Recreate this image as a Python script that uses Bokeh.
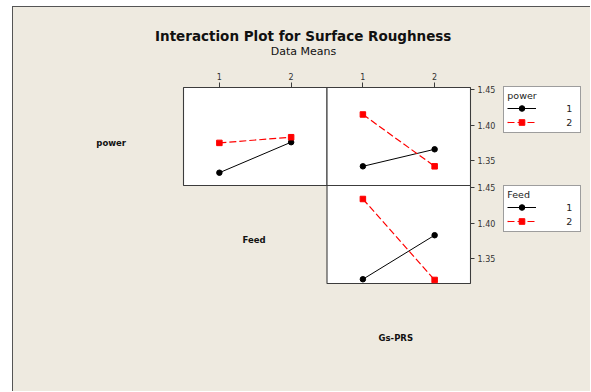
from bokeh.plotting import figure
from bokeh.layouts import column, row
from bokeh.models import (Range1d, LinearAxis, FixedTicker, Label, Legend, LegendItem)
from bokeh.embed import file_html
from bokeh.resources import INLINE

# ---------------- data ----------------
levels = [1, 2]
# top-left panel: x = Feed, traces = power
feed_power1 = [1.333, 1.376]
feed_power2 = [1.375, 1.383]
# top-right panel: x = Gs-PRS, traces = power
gs_power1 = [1.342, 1.366]
gs_power2 = [1.415, 1.342]
# bottom-right panel: x = Gs-PRS, traces = Feed
gs_feed1 = [1.321, 1.383]
gs_feed2 = [1.434, 1.320]

x_tick_labels = ["1", "2"]
y_ticks = [1.35, 1.40, 1.45]
y_tick_labels = ["1.35", "1.40", "1.45"]

title_text = "Interaction Plot for Surface Roughness"
subtitle_text = "Data Means"
row_labels = ["power", "Feed", "Gs-PRS"]
legend_titles = ["power", "Feed"]
legend_labels = ["1", "2"]

# ---------------- styling / geometry ----------------
BG = "#EEEAE0"
FRAME = "#3c3c3c"
FONT = "DejaVu Sans"
ylo, yhi = 1.315, 1.453
xlo, xhi = 0.5, 2.5

# main figure frame (page pixels) and panel edges
OX, OY = 13, 67          # main figure canvas origin on the page
FX0, FX1 = 13, 471
FY0, FY1 = 86, 391
C0, C1, C2 = 183, 326.5, 470
R0, R1, R2 = 87, 185, 283


def xrange_for(lo, hi, a, b):
    s = (hi - lo) / (b - a)
    return Range1d(lo - (a - FX0) * s, hi + (FX1 - b) * s)


def yrange_for(lo, hi, top_px, bottom_px):
    s = (hi - lo) / (bottom_px - top_px)
    return Range1d(lo - (FY1 - bottom_px) * s, hi + (top_px - FY0) * s)


def blank(p):
    p.background_fill_color = BG
    p.border_fill_color = BG
    p.outline_line_color = None
    p.xgrid.visible = False
    p.ygrid.visible = False


def label(p, txt, x, y, size, bold=True):
    p.add_layout(Label(x=x, y=y, x_units="canvas", y_units="canvas", text=txt,
                       text_font=FONT, text_font_size=size,
                       text_font_style="bold" if bold else "normal",
                       text_align="center", text_baseline="middle",
                       text_color="#111111"))


# ---------------- title strip ----------------
pt = figure(width=577, height=60, output_backend="svg", toolbar_location=None,
            x_range=Range1d(0, 1), y_range=Range1d(0, 1), min_border=0,
            x_axis_location=None, y_axis_location=None)
blank(pt)
label(pt, title_text, 302.7 - OX, 35 - 7, "13.5px")
label(pt, subtitle_text, 303 - OX, 50.7 - 7, "11px", bold=False)

# ---------------- main panels ----------------
xr_left = xrange_for(xlo, xhi, C0, C1)
xr_right = xrange_for(xlo, xhi, C1, C2)
yr_top = yrange_for(ylo, yhi, R0, R1)
yr_bottom = yrange_for(ylo, yhi, R1, R2)

p = figure(width=487, height=324, output_backend="svg", toolbar_location=None,
           x_range=xr_left, y_range=yr_top,
           x_axis_location=None, y_axis_location=None,
           min_border_left=FX0 - OX, min_border_right=OX + 487 - FX1,
           min_border_top=FY0 - OY, min_border_bottom=0)
p.extra_x_ranges = {"right_col": xr_right}
p.extra_y_ranges = {"bottom_row": yr_bottom}
blank(p)

panel_specs = [dict(), dict(x_range_name="right_col"),
               dict(x_range_name="right_col", y_range_name="bottom_row")]
for spec in panel_specs:
    p.quad(left=xlo, right=xhi, bottom=ylo, top=yhi, fill_color="white",
           line_color=FRAME, line_width=1.1, **spec)


def right_to_left_x(v):
    px = FX0 + (v - xr_right.start) / (xr_right.end - xr_right.start) * (FX1 - FX0)
    return xr_left.start + (px - FX0) / (FX1 - FX0) * (xr_left.end - xr_left.start)


def bottom_to_top_y(v):
    return yr_top.start + (v - yr_bottom.start) / (yr_bottom.end - yr_bottom.start) * (yr_top.end - yr_top.start)


top_ticks, top_over = [], {}
for k, lab in zip(levels, x_tick_labels):
    top_ticks.append(float(k)); top_over[float(k)] = lab
    t2 = right_to_left_x(k)
    top_ticks.append(t2); top_over[t2] = lab
right_ticks, right_over = [], {}
for t, lab in zip(y_ticks, y_tick_labels):
    right_ticks.append(t); right_over[t] = lab
    t2 = bottom_to_top_y(t)
    right_ticks.append(t2); right_over[t2] = lab

top_axis = LinearAxis(ticker=FixedTicker(ticks=top_ticks), major_label_overrides=top_over)
right_axis = LinearAxis(ticker=FixedTicker(ticks=right_ticks), major_label_overrides=right_over)
for ax in (top_axis, right_axis):
    ax.axis_line_color = None
    ax.major_tick_line_color = FRAME
    ax.major_tick_in = 1
    ax.major_tick_out = 4
    ax.minor_tick_line_color = None
    ax.major_label_text_font = FONT
    ax.major_label_text_font_size = "8px"
    ax.major_label_text_color = "#333333"
    ax.major_label_standoff = 3
right_axis.major_tick_out = 3
p.add_layout(top_axis, "above")
p.add_layout(right_axis, "right")


def trace(fig, y, kind, **spec):
    if kind == 1:
        ln = fig.line(levels, y, line_color="black", line_width=1, **spec)
        pt_ = fig.scatter(levels, y, marker="circle", size=5.5, color="black", **spec)
    else:
        ln = fig.line(levels, y, line_color="red", line_width=1.2, line_dash="7 3", **spec)
        pt_ = fig.scatter(levels, y, marker="square", size=5.5, color="red", **spec)
    return [ln, pt_]


trace(p, feed_power1, 1)
trace(p, feed_power2, 2)
trace(p, gs_power1, 1, x_range_name="right_col")
trace(p, gs_power2, 2, x_range_name="right_col")
trace(p, gs_feed1, 1, x_range_name="right_col", y_range_name="bottom_row")
trace(p, gs_feed2, 2, x_range_name="right_col", y_range_name="bottom_row")

label(p, row_labels[0], 110.7 - OX, 142.7 - OY, "8.5px")
label(p, row_labels[1], 253.5 - OX, 239.7 - OY, "8.5px")
label(p, row_labels[2], 395.3 - OX, 337.3 - OY, "8.5px")

# ---------------- legends (key glyphs; the series lie outside this strip's ranges) ----------------
LX = 500
pl = figure(width=90, height=324, output_backend="svg", toolbar_location=None,
            x_range=Range1d(0, 0.5), y_range=Range1d(0, 1), min_border=0,
            x_axis_location=None, y_axis_location=None)
blank(pl)
kp1 = trace(pl, gs_power1, 1)
kp2 = trace(pl, gs_power2, 2)
kf1 = trace(pl, gs_feed1, 1)
kf2 = trace(pl, gs_feed2, 2)


def make_legend(title, r1, r2, loc):
    lg = Legend(items=[LegendItem(label=legend_labels[0], renderers=r1),
                       LegendItem(label=legend_labels[1], renderers=r2)],
                title=title, location=loc)
    lg.border_line_color = FRAME
    lg.background_fill_color = "white"
    lg.background_fill_alpha = 1
    lg.padding = 3
    lg.spacing = 0
    lg.margin = 0
    lg.glyph_width = 29
    lg.glyph_height = 14
    lg.label_height = 14
    lg.label_width = 11
    lg.label_standoff = 30
    lg.label_text_font = FONT
    lg.label_text_font_size = "9.5px"
    lg.label_text_color = "#222222"
    lg.title_text_font = FONT
    lg.title_text_font_size = "9.5px"
    lg.title_text_font_style = "normal"
    lg.title_text_color = "#222222"
    lg.title_standoff = 0
    pl.add_layout(lg)


make_legend(legend_titles[0], kp1, kp2, (503.3 - LX, 324 - (133.3 - OY)))
make_legend(legend_titles[1], kf1, kf2, (503.3 - LX, 324 - (232 - OY)))

layout = column(pt, row(p, pl), margin=(6, 0, 0, 12),
                styles={"border-left": "1px solid #555555",
                        "border-top": "1px solid #555555",
                        "background-color": BG})

open("out.html", "w").write(file_html(layout, INLINE))
